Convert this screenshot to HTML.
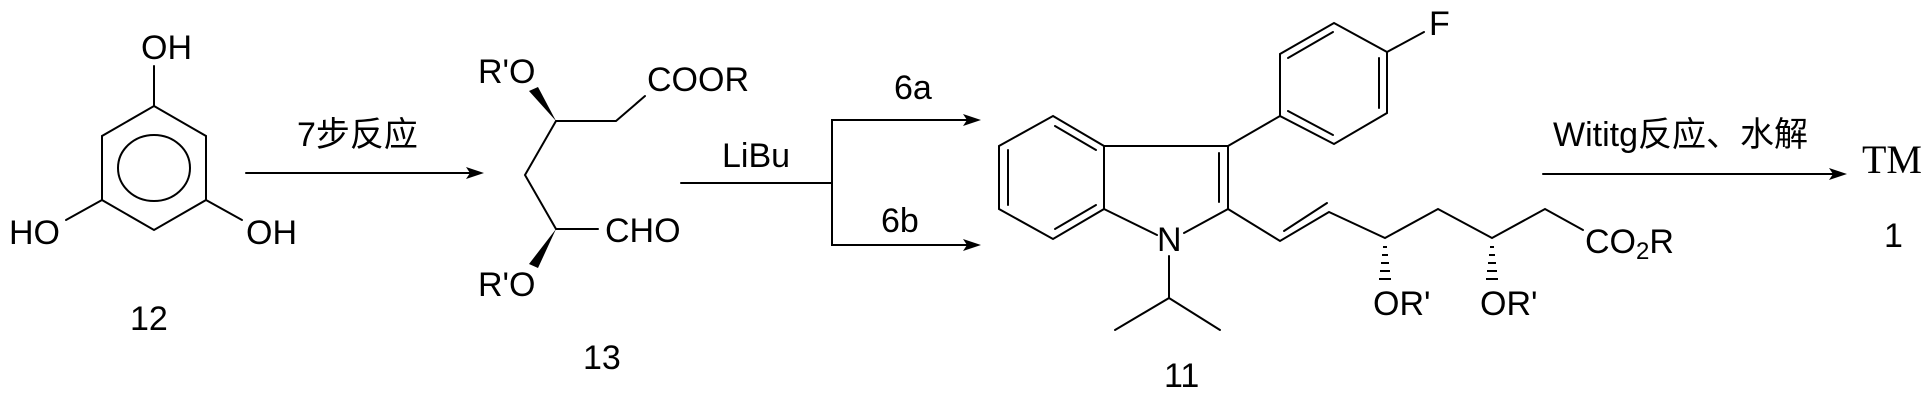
<!DOCTYPE html>
<html><head><meta charset="utf-8"><style>
html,body{margin:0;padding:0;background:#fff;}
svg{display:block}
text{font-family:"Liberation Sans","Noto Sans CJK SC",sans-serif;font-size:34px;fill:#000}
</style></head><body>
<svg width="1921" height="401" viewBox="0 0 1921 401" xmlns="http://www.w3.org/2000/svg">
<g stroke="#000" stroke-width="2" fill="none" stroke-linecap="round">
<polygon points="154,106 206,136 206,200 154,230 102,200 102,136"/>
<ellipse cx="154" cy="168" rx="36" ry="33"/>
<line x1="154" y1="106" x2="154" y2="66"/>
<line x1="102" y1="200" x2="66" y2="220"/>
<line x1="206" y1="200" x2="242" y2="220"/>
<line x1="246" y1="173" x2="472" y2="173"/>
<polyline points="645,96 616,121 556,121 525,175 556,229 598,229"/>
<line x1="681" y1="183" x2="832" y2="183"/>
<polyline points="969,120 832,120 832,245 969,245"/>
<polygon points="1053,116 1104,146 1104,209 1053,239 999,209 999,146"/>
<line x1="1055" y1="126" x2="1096" y2="150"/>
<line x1="1008" y1="150" x2="1008" y2="205"/>
<line x1="1055" y1="229" x2="1096" y2="205"/>
<polyline points="1104,146 1228,146 1228,209 1184,233"/>
<line x1="1104" y1="209" x2="1157" y2="235"/>
<line x1="1219" y1="153" x2="1219" y2="202"/>
<polyline points="1169,256 1169,298 1115,330"/>
<line x1="1169" y1="298" x2="1220" y2="330"/>
<line x1="1228" y1="146" x2="1280" y2="116"/>
<polygon points="1334,23 1387,52 1387,113 1334,144 1280,116 1280,54"/>
<line x1="1379" y1="58" x2="1379" y2="108"/>
<line x1="1333" y1="135" x2="1288" y2="111"/>
<line x1="1288" y1="58" x2="1333" y2="32"/>
<line x1="1387" y1="52" x2="1424" y2="32"/>
<polyline points="1228,209 1280,241 1329,212 1385,238 1438,209 1492,238 1545,209 1583,230"/>
<line x1="1284" y1="231" x2="1327" y2="203"/>
<line x1="1543" y1="174" x2="1835" y2="174"/>
</g>
<g fill="#000" stroke="none">
<polygon points="484,173 466,167 470,173 466,179"/>
<polygon points="981,120 963,114 967,120 963,126"/>
<polygon points="981,245 963,239 967,245 963,251"/>
<polygon points="1847,174 1829,168 1833,174 1829,180"/>
<polygon points="556,121 529,91 538,87"/>
<polygon points="556,229 529,264 538,268"/>
<rect x="1383" y="246" width="4" height="2"/><rect x="1382" y="254" width="6" height="2"/><rect x="1381" y="262" width="8" height="2"/><rect x="1380" y="270" width="10" height="2"/><rect x="1379" y="278" width="12" height="2"/>
<rect x="1490" y="246" width="4" height="2"/><rect x="1489" y="254" width="6" height="2"/><rect x="1488" y="262" width="8" height="2"/><rect x="1487" y="270" width="10" height="2"/><rect x="1486" y="278" width="12" height="2"/>
</g>
<text x="141" y="59">OH</text>
<text x="9" y="244">HO</text>
<text x="246" y="244">OH</text>
<text x="130" y="330">12</text>
<text x="297" y="146">7步反应</text>
<text x="478" y="83">R'O</text>
<text x="647" y="91">COOR</text>
<text x="605" y="242">CHO</text>
<text x="478" y="296">R'O</text>
<text x="583" y="369">13</text>
<text x="722" y="167">LiBu</text>
<text x="894" y="99">6a</text>
<text x="881" y="232">6b</text>
<text x="1157" y="251">N</text>
<text x="1164" y="387">11</text>
<text x="1429" y="35">F</text>
<text x="1585" y="253">CO<tspan font-size="24" dy="6">2</tspan><tspan dy="-6">R</tspan></text>
<text x="1373" y="315">OR'</text>
<text x="1480" y="315">OR'</text>
<text x="1553" y="146">Wititg反应、水解</text>
<text x="1862" y="173" style="font-family:'Liberation Serif',serif;font-size:40px">TM</text>
<text x="1884" y="247">1</text>
</svg>
</body></html>
